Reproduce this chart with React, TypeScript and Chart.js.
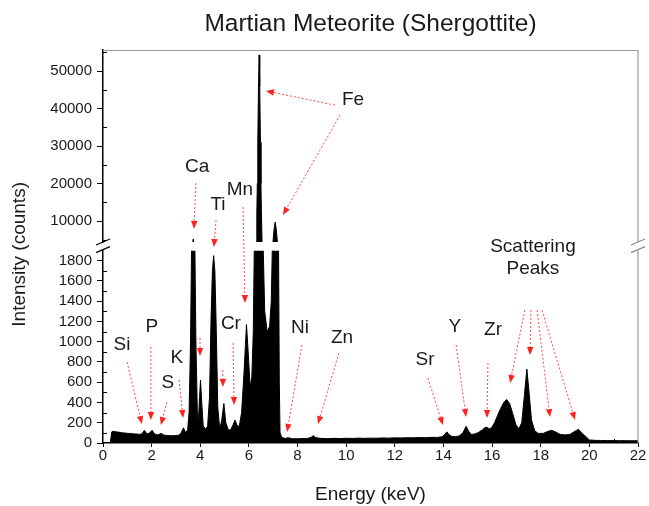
import React, { useEffect, useRef } from 'react';
import { Chart, registerables } from 'chart.js';

// ---------------- data ----------------
const energyKeV = [
  0.30, 0.36, 0.40, 0.50, 0.60, 0.70, 0.80, 0.90, 1.00, 1.10, 1.20, 1.30, 1.40, 1.50, 1.60, 1.70, 1.80, 1.90,
  2.02, 2.12, 2.25, 2.40, 2.50, 2.60, 2.70, 2.80, 2.90, 3.00, 3.10, 3.20, 3.31, 3.40, 3.48,
  3.54, 3.60, 3.64, 3.71, 3.78, 3.82, 3.88, 3.92, 3.97, 4.01, 4.06, 4.12, 4.20, 4.30,
  4.38, 4.44, 4.50, 4.55, 4.60, 4.66, 4.72, 4.80, 4.88, 4.97, 5.05, 5.15, 5.25, 5.35, 5.43, 5.50,
  5.60, 5.70, 5.80, 5.90, 5.97, 6.05, 6.12, 6.18, 6.22,
  6.30, 6.325, 6.345, 6.365, 6.395, 6.42, 6.445, 6.475, 6.495, 6.515, 6.54, 6.59,
  6.65, 6.75, 6.85, 6.92, 6.96, 6.99, 7.03, 7.08, 7.13, 7.17, 7.22, 7.25, 7.28, 7.35,
  7.50, 7.60, 7.80, 8.00, 8.20, 8.40, 8.55, 8.65, 8.75,
  9.00, 9.25, 9.50, 9.75, 10.00, 10.25, 10.50, 10.75, 11.00, 11.25, 11.50, 11.75, 12.00, 12.25, 12.50, 12.75,
  13.00, 13.25, 13.50, 13.75, 13.95, 14.05, 14.14, 14.24, 14.35, 14.50, 14.65, 14.80, 14.93, 15.05, 15.15,
  15.30, 15.45, 15.60, 15.70, 15.78, 15.88, 15.98, 16.10, 16.22, 16.35, 16.48, 16.60, 16.72, 16.85, 16.98,
  17.10, 17.22, 17.32, 17.43, 17.52, 17.62, 17.75, 17.90, 18.10, 18.30, 18.45, 18.60, 18.80, 19.00, 19.20,
  19.40, 19.55, 19.70, 19.85, 20.00, 20.25, 20.50, 20.75, 21.00, 21.25, 21.50, 21.75, 22.00,
];

const counts = [
  0, 110, 115, 112, 108, 105, 100, 98, 96, 93, 92, 90, 88, 86, 90, 125, 92, 96,
  125, 90, 80, 95, 78, 75, 74, 72, 72, 73, 76, 95, 150, 100, 130,
  300, 1000, 1900, 5200, 1900, 1000, 300, 200, 450, 620, 400, 170, 140, 160,
  450, 1200, 1700, 1850, 1700, 1100, 350, 140, 220, 390, 200, 130, 130, 180, 225, 180,
  160, 300, 700, 1170, 900, 550, 650, 1100, 1900,
  4400, 12000, 20000, 31000, 46000, 54300, 46000, 31000, 20000, 12000, 4400, 1900,
  1300, 1100, 1150, 1400, 1900, 4400, 7500, 9700, 7500, 4400, 1900, 600, 100, 55,
  45, 52, 42, 42, 44, 45, 55, 72, 52,
  45, 43, 46, 44, 47, 45, 48, 46, 48, 47, 50, 48, 51, 50, 52, 51,
  54, 52, 56, 55, 62, 85, 110, 80, 65, 62, 70, 100, 165, 110, 85,
  90, 105, 130, 150, 155, 140, 150, 200, 270, 340, 400, 430, 390, 290, 180,
  140, 200, 450, 730, 500, 230, 120, 95, 95, 115, 125, 110, 85, 80, 85,
  115, 135, 95, 65, 30, 26, 25, 24, 24, 23, 23, 22, 22,
];

const xRange = [0, 22];
const xTickValues = [0, 2, 4, 6, 8, 10, 12, 14, 16, 18, 20, 22];
const lowerRange = [0, 1900];
const lowerTickValues = [0, 200, 400, 600, 800, 1000, 1200, 1400, 1600, 1800];
const upperRange = [4400, 55600];
const upperTickValues = [10000, 20000, 30000, 40000, 50000];

const chartTitle = 'Martian Meteorite (Shergottite)';
const xTitle = 'Energy (keV)';
const yTitle = 'Intensity (counts)';

type Ax = 'yLow' | 'yHigh';
const elementLabels: { text: string; e: number; v: number; axis: Ax }[] = [
  { text: 'Fe', e: 10.28, v: 42300, axis: 'yHigh' },
  { text: 'Ca', e: 3.87, v: 24400, axis: 'yHigh' },
  { text: 'Ti', e: 4.73, v: 14300, axis: 'yHigh' },
  { text: 'Mn', e: 5.63, v: 18300, axis: 'yHigh' },
  { text: 'Cr', e: 5.26, v: 1175, axis: 'yLow' },
  { text: 'Si', e: 0.78, v: 968, axis: 'yLow' },
  { text: 'P', e: 2.01, v: 1146, axis: 'yLow' },
  { text: 'S', e: 2.67, v: 593, axis: 'yLow' },
  { text: 'K', e: 3.04, v: 839, axis: 'yLow' },
  { text: 'Ni', e: 8.1, v: 1136, axis: 'yLow' },
  { text: 'Zn', e: 9.83, v: 1037, axis: 'yLow' },
  { text: 'Sr', e: 13.24, v: 820, axis: 'yLow' },
  { text: 'Y', e: 14.47, v: 1146, axis: 'yLow' },
  { text: 'Zr', e: 16.04, v: 1116, axis: 'yLow' },
  { text: 'Scattering', e: 17.68, v: 1936, axis: 'yLow' },
  { text: 'Peaks', e: 17.68, v: 1718, axis: 'yLow' },
];

type P = [number, number, Ax];
const arrows: { from: P; to: P }[] = [
  { from: [9.54, 40900, 'yHigh'], to: [6.7, 44700, 'yHigh'] },
  { from: [9.75, 38300, 'yHigh'], to: [7.4, 11600, 'yHigh'] },
  { from: [3.82, 20100, 'yHigh'], to: [3.74, 7900, 'yHigh'] },
  { from: [4.65, 10300, 'yHigh'], to: [4.56, 1936, 'yLow'] },
  { from: [5.76, 13700, 'yHigh'], to: [5.84, 1383, 'yLow'] },
  { from: [3.99, 1037, 'yLow'], to: [3.99, 859, 'yLow'] },
  { from: [4.93, 721, 'yLow'], to: [4.93, 553, 'yLow'] },
  { from: [5.35, 988, 'yLow'], to: [5.39, 375, 'yLow'] },
  { from: [0.99, 800, 'yLow'], to: [1.6, 188, 'yLow'] },
  { from: [1.97, 948, 'yLow'], to: [1.97, 227, 'yLow'] },
  { from: [2.63, 405, 'yLow'], to: [2.38, 178, 'yLow'] },
  { from: [3.13, 622, 'yLow'], to: [3.29, 247, 'yLow'] },
  { from: [8.18, 968, 'yLow'], to: [7.57, 109, 'yLow'] },
  { from: [9.7, 889, 'yLow'], to: [8.84, 188, 'yLow'] },
  { from: [13.36, 642, 'yLow'], to: [13.98, 178, 'yLow'] },
  { from: [14.52, 968, 'yLow'], to: [14.93, 257, 'yLow'] },
  { from: [15.83, 790, 'yLow'], to: [15.79, 247, 'yLow'] },
  { from: [17.35, 1313, 'yLow'], to: [16.74, 593, 'yLow'] },
  { from: [17.6, 1313, 'yLow'], to: [17.56, 869, 'yLow'] },
  { from: [17.85, 1313, 'yLow'], to: [18.38, 257, 'yLow'] },
  { from: [18.05, 1313, 'yLow'], to: [19.41, 227, 'yLow'] },
];

// ---------------- plugins ----------------
const FONT = '"Liberation Sans", Arial, Helvetica, sans-serif';
const INK = '#1a1a1a';

const mids = (vals: number[]) => vals.slice(1).map((v, i) => (v + vals[i]) / 2);

const splitClip = {
  id: 'splitClip',
  beforeDatasetDraw(chart: any, args: any) {
    const ys = chart.scales[args.meta.yAxisID];
    const a = chart.chartArea;
    const ctx = chart.ctx;
    ctx.save();
    ctx.beginPath();
    ctx.rect(a.left, ys.top, a.right - a.left, ys.bottom - ys.top);
    ctx.clip();
  },
  afterDatasetDraw(chart: any) {
    chart.ctx.restore();
  },
};

const decor = {
  id: 'decor',
  afterDraw(chart: any) {
    const { ctx, chartArea: a, scales } = chart;
    const yl = scales.yLow, yh = scales.yHigh, x = scales.x;
    const px = (p: P) => [x.getPixelForValue(p[0]), scales[p[2]].getPixelForValue(p[1])];
    ctx.save();
    // gray frame
    ctx.strokeStyle = '#9a9a9a';
    ctx.lineWidth = 1.2;
    ctx.beginPath();
    ctx.moveTo(a.left, a.top + 0.5);
    ctx.lineTo(a.right, a.top + 0.5);
    ctx.moveTo(a.right, a.top);
    ctx.lineTo(a.right, yh.bottom);
    ctx.moveTo(a.right, yl.top);
    ctx.lineTo(a.right, a.bottom);
    ctx.stroke();
    // break marks
    const brk = (cx: number, color: string) => {
      ctx.strokeStyle = color;
      ctx.lineWidth = 1.2;
      ctx.beginPath();
      ctx.moveTo(cx - 7, yh.bottom + 3);
      ctx.lineTo(cx + 7, yh.bottom - 3);
      ctx.moveTo(cx - 7, yl.top + 2);
      ctx.lineTo(cx + 7, yl.top - 4);
      ctx.stroke();
    };
    brk(a.left, '#000');
    brk(a.right, '#8a8a8a');
    // minor ticks (inward)
    ctx.strokeStyle = '#000';
    ctx.lineWidth = 1;
    ctx.beginPath();
    for (const v of [...mids(lowerTickValues), 1900 - 0]) {
      if (v >= lowerRange[1]) continue;
      const y = Math.round(yl.getPixelForValue(v)) + 0.5;
      ctx.moveTo(a.left, y); ctx.lineTo(a.left + 4, y);
    }
    for (const v of [5000, ...mids(upperTickValues), 55000]) {
      const y = Math.round(yh.getPixelForValue(v)) + 0.5;
      ctx.moveTo(a.left, y); ctx.lineTo(a.left + 4, y);
    }
    for (const v of mids(xTickValues)) {
      const xx = Math.round(x.getPixelForValue(v)) + 0.5;
      ctx.moveTo(xx, a.bottom); ctx.lineTo(xx, a.bottom - 4);
    }
    ctx.stroke();
    // y title
    ctx.save();
    ctx.translate(20, a.top + (a.bottom - a.top) * 0.52);
    ctx.rotate(-Math.PI / 2);
    ctx.fillStyle = INK;
    ctx.font = `19px ${FONT}`;
    ctx.textAlign = 'center';
    ctx.textBaseline = 'middle';
    ctx.fillText(yTitle, 0, 0);
    ctx.restore();
    // arrows
    for (const ar of arrows) {
      const [x1, y1] = px(ar.from);
      const [x2, y2] = px(ar.to);
      const ang = Math.atan2(y2 - y1, x2 - x1);
      const L = 8, W = 3.2;
      const bx = x2 - L * Math.cos(ang), by = y2 - L * Math.sin(ang);
      ctx.strokeStyle = 'rgba(255,40,40,0.85)';
      ctx.lineWidth = 1;
      ctx.setLineDash([2, 2]);
      ctx.beginPath();
      ctx.moveTo(x1, y1);
      ctx.lineTo(bx, by);
      ctx.stroke();
      ctx.setLineDash([]);
      ctx.fillStyle = '#ff2020';
      ctx.beginPath();
      ctx.moveTo(x2, y2);
      ctx.lineTo(bx + W * Math.sin(ang), by - W * Math.cos(ang));
      ctx.lineTo(bx - W * Math.sin(ang), by + W * Math.cos(ang));
      ctx.closePath();
      ctx.fill();
    }
    // labels
    ctx.fillStyle = INK;
    ctx.font = `19px ${FONT}`;
    ctx.textAlign = 'center';
    ctx.textBaseline = 'middle';
    for (const l of elementLabels) {
      const [lx, ly] = px([l.e, l.v, l.axis]);
      ctx.fillText(l.text, lx, ly);
    }
    ctx.restore();
  },
};

Chart.register(splitClip);
Chart.register(...registerables);

const fixTicks = (vals: number[]) => (s: any) => {
  s.ticks = vals.map((v) => ({ value: v }));
};

export default function App() {
  const ref = useRef<HTMLCanvasElement | null>(null);
  useEffect(() => {
    if (!ref.current) return;
    const pts = energyKeV.map((e, i) => ({ x: e, y: counts[i] }));
    const common = {
      data: pts,
      borderColor: '#000',
      backgroundColor: '#000',
      borderWidth: 1,
      pointRadius: 0,
      tension: 0,
      fill: 'origin',
    };
    const yTick = { color: INK, font: { size: 15, family: FONT }, padding: 5, autoSkip: false, callback: (v: any) => String(v) };
    const chart = new Chart(ref.current, {
      type: 'line',
      data: {
        datasets: [
          { ...common, yAxisID: 'yLow' } as any,
          { ...common, yAxisID: 'yHigh' } as any,
        ],
      },
      options: {
        animation: false,
        responsive: false,
        maintainAspectRatio: false,
        events: [],
        layout: { padding: { left: 0, right: 11, top: 0, bottom: 0 } },
        plugins: {
          legend: { display: false },
          tooltip: { enabled: false },
          title: {
            display: true,
            text: chartTitle,
            fullSize: false,
            color: INK,
            font: { size: 24.5, family: FONT, weight: 'normal' },
            padding: { top: 10, bottom: 10.6 },
          },
        },
        scales: {
          x: {
            type: 'linear',
            min: xRange[0],
            max: xRange[1],
            afterBuildTicks: fixTicks(xTickValues),
            border: { color: '#000', width: 1.5 },
            grid: { drawOnChartArea: false, drawTicks: true, tickLength: 4, color: '#000' },
            ticks: { color: INK, font: { size: 15, family: FONT }, padding: 0, maxRotation: 0, autoSkip: false },
            title: { display: true, text: xTitle, color: INK, font: { size: 19, family: FONT }, padding: { top: 0, bottom: 0 } },
            afterFit: (s: any) => { s.height = 63; },
          },
          yLow: {
            type: 'linear',
            position: 'left',
            stack: 'y',
            stackWeight: 192.4,
            min: lowerRange[0],
            max: lowerRange[1],
            afterBuildTicks: fixTicks(lowerTickValues),
            border: { color: '#000', width: 1.5 },
            grid: { drawOnChartArea: false, drawTicks: true, tickLength: 6, color: '#000' },
            ticks: { ...yTick },
            afterFit: (s: any) => { s.width = 103; },
          },
          yGap: {
            type: 'linear',
            position: 'left',
            stack: 'y',
            stackWeight: 8.6,
            min: 0,
            max: 1,
            display: true,
            border: { display: false },
            grid: { display: false, drawTicks: false },
            ticks: { display: false },
            afterFit: (s: any) => { s.width = 103; },
          },
          yHigh: {
            type: 'linear',
            position: 'left',
            stack: 'y',
            stackWeight: 192,
            min: upperRange[0],
            max: upperRange[1],
            afterBuildTicks: fixTicks(upperTickValues),
            border: { color: '#000', width: 1.5 },
            grid: { drawOnChartArea: false, drawTicks: true, tickLength: 6, color: '#000' },
            ticks: { ...yTick },
            afterFit: (s: any) => { s.width = 103; },
          },
        } as any,
      },
      plugins: [decor],
    });
    return () => chart.destroy();
  }, []);
  return (
    <div style={{ position: 'fixed', left: 0, top: 0, width: 649, height: 506, background: '#fff' }}>
      <canvas ref={ref} width={649} height={506} style={{ display: 'block' }} />
    </div>
  );
}
